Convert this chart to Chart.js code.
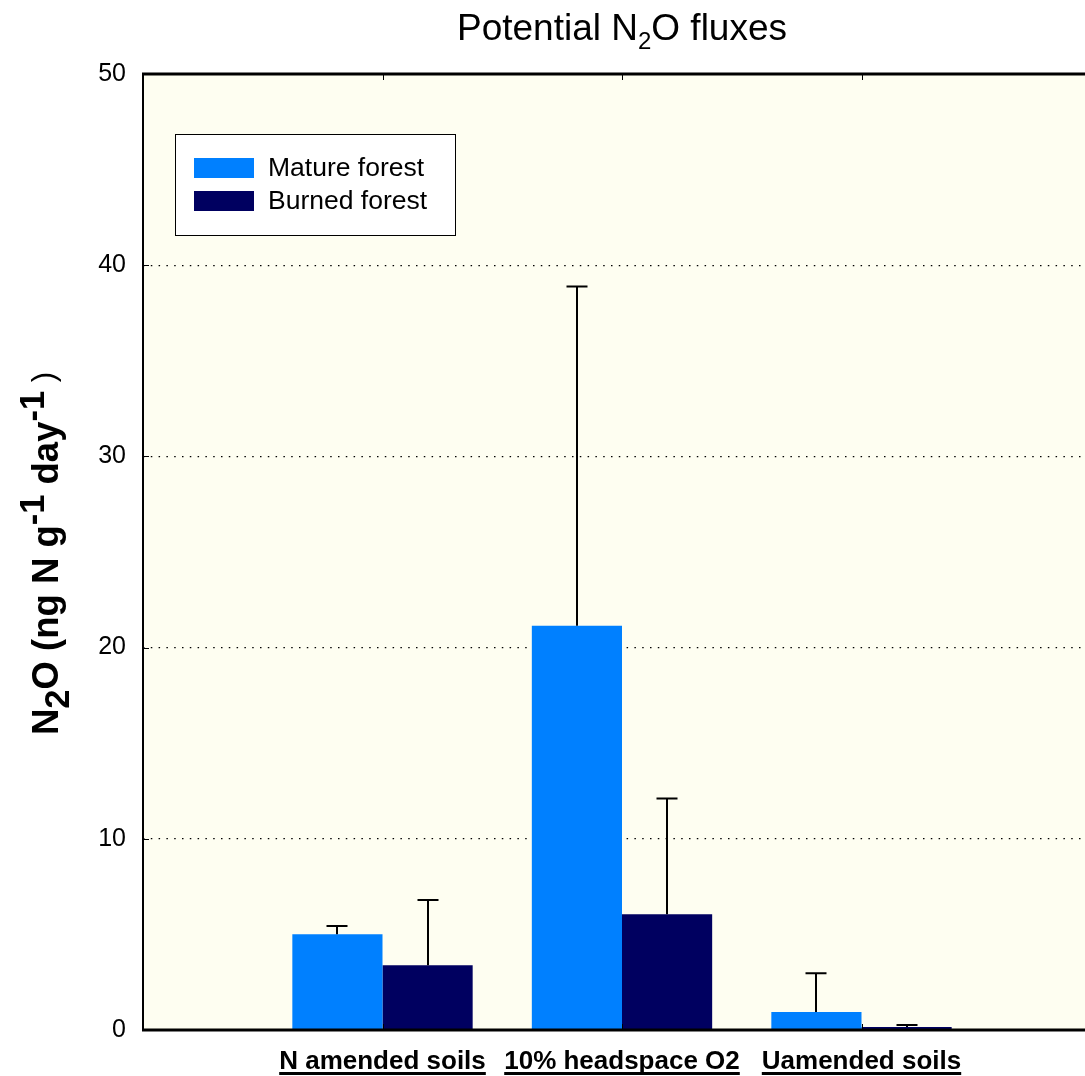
<!DOCTYPE html>
<html>
<head>
<meta charset="utf-8">
<script src="https://cdn.jsdelivr.net/npm/chart.js@4.4.1/dist/chart.umd.min.js"></script>
<style>
  html, body { margin: 0; padding: 0; background: #ffffff; overflow: hidden; }
  #wrap { width: 1085px; height: 1076px; overflow: hidden; position: relative; }
  canvas { display: block; }
</style>
</head>
<body>
<div id="wrap"><canvas id="c" width="1112" height="1076"></canvas></div>
<script>
// ---- Data ----
const categories = ['N amended soils', '10% headspace O2', 'Uamended soils'];
const matureForest = [5.01, 21.14, 0.94];
const burnedForest = [3.39, 6.05, 0.16];
const matureErrUp = [0.43, 17.74, 2.03];
const burnedErrUp = [3.41, 6.06, 0.10];
const yTicks = [0, 10, 20, 30, 40, 50];
const seriesNames = ['Mature forest', 'Burned forest'];
const seriesColors = ['#0080FF', '#000060'];

// padded category list: empty slot at each end so groups sit at 1,2,3 of 0..4
const labels = [''].concat(categories, ['']);
const pad = arr => [null].concat(arr, [null]);

const FONT = '"Liberation Sans", Arial, Helvetica, sans-serif';

const plotBg = {
  id: 'plotBg',
  beforeDraw(chart) {
    const {ctx, chartArea: a} = chart;
    ctx.save();
    ctx.fillStyle = '#FEFEF1';
    ctx.fillRect(a.left, a.top, a.right - a.left, a.bottom - a.top);
    ctx.restore();
  }
};

const errorBars = {
  id: 'errorBars',
  afterDatasetsDraw(chart) {
    const ctx = chart.ctx;
    const y = chart.scales.y;
    const errs = [matureErrUp, burnedErrUp];
    ctx.save();
    ctx.strokeStyle = '#000';
    ctx.lineWidth = 2;
    chart.data.datasets.forEach((ds, di) => {
      const meta = chart.getDatasetMeta(di);
      meta.data.forEach((bar, i) => {
        const v = ds.data[i];
        if (v == null) return;
        const e = errs[di][i - 1];
        const x = Math.round(bar.x);
        const y0 = y.getPixelForValue(v);
        const y1 = y.getPixelForValue(v + e);
        ctx.beginPath();
        ctx.moveTo(x, y0);
        ctx.lineTo(x, y1);
        ctx.moveTo(x - 10.5, y1);
        ctx.lineTo(x + 10.5, y1);
        ctx.stroke();
      });
    });
    ctx.restore();
  }
};

const frameAndText = {
  id: 'frameAndText',
  afterDraw(chart) {
    const {ctx, chartArea: a} = chart;
    const xs = chart.scales.x, ys = chart.scales.y;
    ctx.save();
    ctx.strokeStyle = '#000';
    // frame
    ctx.lineWidth = 3;
    ctx.beginPath();
    ctx.moveTo(a.left - 1, a.top); ctx.lineTo(a.right, a.top);
    ctx.moveTo(a.left - 1, a.bottom); ctx.lineTo(a.right, a.bottom);
    ctx.stroke();
    ctx.lineWidth = 2;
    ctx.beginPath();
    ctx.moveTo(a.left, a.top); ctx.lineTo(a.left, a.bottom);
    ctx.stroke();
    // inner ticks
    ctx.lineWidth = 1;
    ctx.beginPath();
    yTicks.forEach(v => {
      const py = Math.round(ys.getPixelForValue(v)) + 0.5;
      ctx.moveTo(a.left, py); ctx.lineTo(a.left + 6, py);
    });
    for (let i = 1; i <= categories.length; i++) {
      const px = Math.round(xs.getPixelForTick(i)) + 0.5;
      ctx.moveTo(px, a.top); ctx.lineTo(px, a.top + 6);
      ctx.moveTo(px, a.bottom); ctx.lineTo(px, a.bottom - 6);
    }
    ctx.stroke();

    // underline x labels
    ctx.font = 'bold 26px ' + FONT;
    ctx.lineWidth = 3;
    ctx.beginPath();
    for (let i = 1; i <= categories.length; i++) {
      const px = xs.getPixelForTick(i);
      const w = ctx.measureText(categories[i - 1]).width;
      ctx.moveTo(px - w / 2, 1073.5); ctx.lineTo(px + w / 2, 1073.5);
    }
    ctx.stroke();

    // legend
    ctx.fillStyle = '#fff';
    ctx.fillRect(175, 134, 280, 101);
    ctx.lineWidth = 1;
    ctx.strokeRect(175.5, 134.5, 280, 101);
    ctx.font = '26.5px ' + FONT;
    ctx.textBaseline = 'middle';
    ctx.textAlign = 'left';
    chart.data.datasets.forEach((ds, di) => {
      const yy = 158 + di * 33;
      ctx.fillStyle = ds.backgroundColor;
      ctx.fillRect(194, yy, 60, 20);
      ctx.fillStyle = '#000';
      ctx.fillText(ds.label, 268, yy + 11);
    });

    // title with subscript
    ctx.textBaseline = 'alphabetic';
    const tMain = '37px ' + FONT, tSub = '24px ' + FONT;
    const parts = [['Potential N', tMain, 0], ['2', tSub, 9], ['O fluxes', tMain, 0]];
    let total = 0;
    parts.forEach(p => { ctx.font = p[1]; total += ctx.measureText(p[0]).width; });
    let x = (a.left + a.right) / 2 - total / 2;
    parts.forEach(p => {
      ctx.font = p[1];
      ctx.fillText(p[0], x, 40 + p[2]);
      x += ctx.measureText(p[0]).width;
    });

    // y axis title, rotated
    ctx.translate(58, 735);
    ctx.rotate(-Math.PI / 2);
    const bMain = 'bold 36.5px ' + FONT, bSmall = 'bold 34.5px ' + FONT, reg = '31px ' + FONT;
    const yparts = [
      ['N', bMain, 0], ['2', bSmall, 11], ['O (ng N g', bMain, 0],
      ['-1', bSmall, -14], [' day', bMain, 0], ['-1', bSmall, -14], [' )', reg, -4]
    ];
    x = 0;
    yparts.forEach(p => {
      ctx.font = p[1];
      ctx.fillText(p[0], x, p[2]);
      x += ctx.measureText(p[0]).width;
    });
    ctx.restore();
  }
};

new Chart(document.getElementById('c'), {
  type: 'bar',
  data: {
    labels: labels,
    datasets: [
      { label: seriesNames[0], data: pad(matureForest), backgroundColor: seriesColors[0], borderWidth: 0 },
      { label: seriesNames[1], data: pad(burnedForest), backgroundColor: seriesColors[1], borderWidth: 0 }
    ]
  },
  options: {
    responsive: false,
    animation: false,
    events: [],
    layout: { padding: { top: 74, right: 11, left: 0, bottom: 0 } },
    plugins: { legend: { display: false }, title: { display: false }, tooltip: { enabled: false } },
    datasets: { bar: { categoryPercentage: 0.753, barPercentage: 1.0 } },
    scales: {
      x: {
        type: 'category',
        offset: false,
        grid: { display: false, offset: false },
        border: { display: false },
        ticks: {
          autoSkip: false, maxRotation: 0, minRotation: 0,
          color: '#000', padding: 8,
          font: { family: FONT, size: 26, weight: 'bold' }
        },
        afterFit(scale) { scale.height = 46; }
      },
      y: {
        min: 0, max: 50,
        ticks: {
          stepSize: 10, color: '#000', padding: 17,
          font: { family: FONT, size: 25 }
        },
        grid: {
          drawTicks: false,
          lineWidth: 1.3,
          color: ctx => (ctx.tick && (ctx.tick.value === 0 || ctx.tick.value === 50)) ? 'rgba(0,0,0,0)' : '#000'
        },
        border: { display: false, dash: [1.5, 6.3] },
        afterFit(scale) { scale.width = 143; }
      }
    }
  },
  plugins: [plotBg, errorBars, frameAndText]
});
</script>
</body>
</html>
